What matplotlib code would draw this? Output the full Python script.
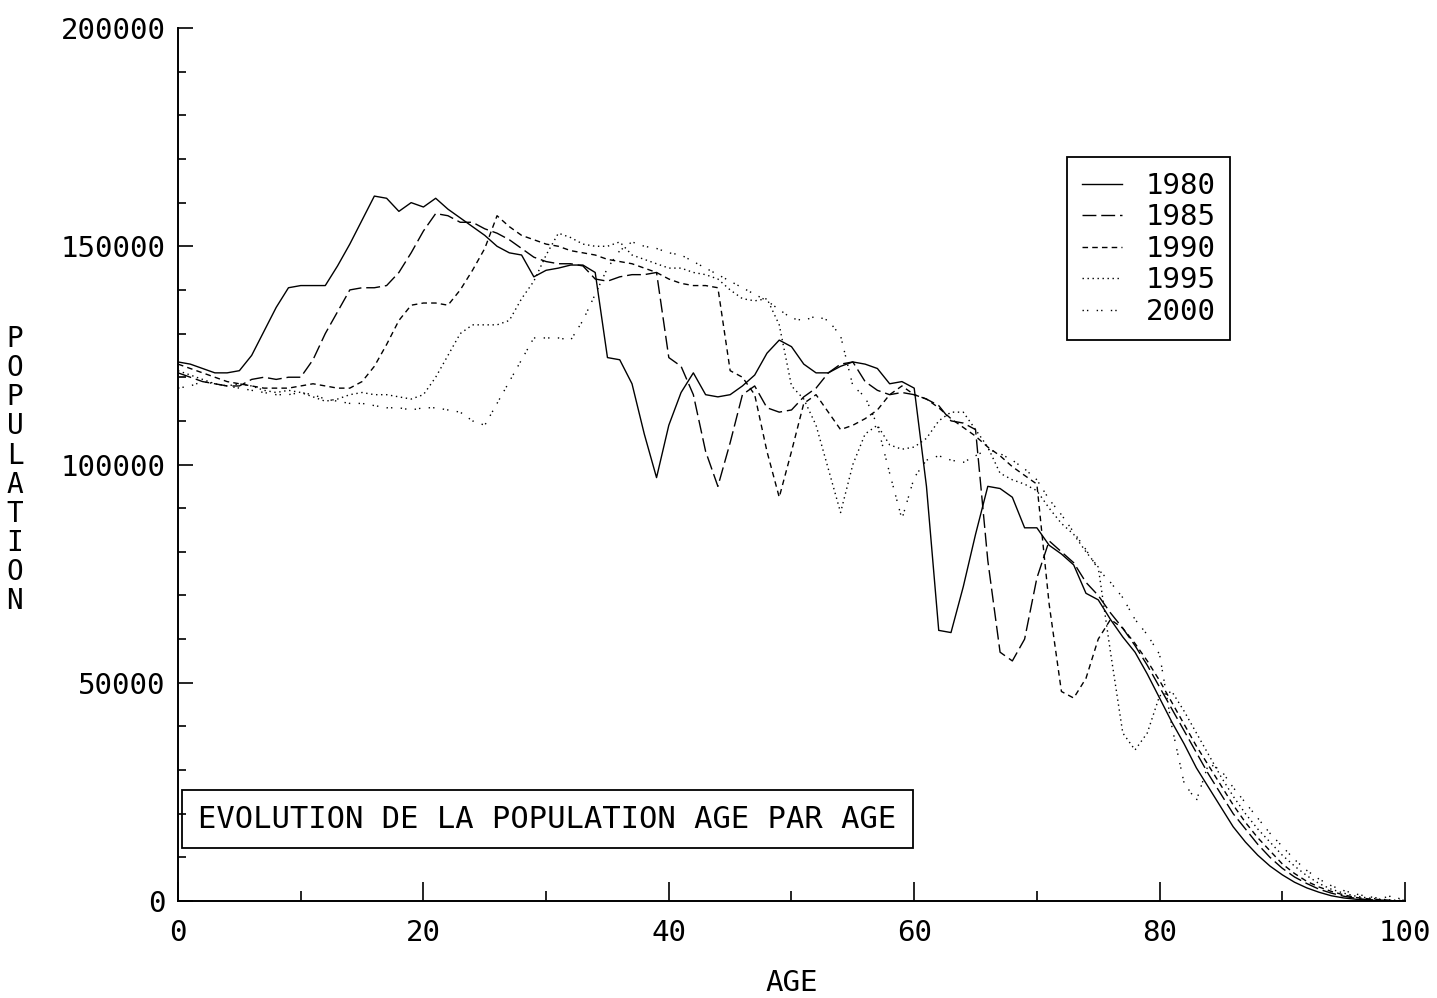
import numpy as np
import matplotlib
matplotlib.use("Agg")
import matplotlib.pyplot as plt
from matplotlib.patches import Rectangle

# population by single year of age (thousands), ages 0..100
ages = np.arange(0, 101)

pop_1980 = [123.5, 123, 122, 121, 121, 121.5, 125, 130.5, 136, 140.5,
            141, 141, 141, 145.5, 150.5, 156, 161.5, 161, 158, 160,
            159, 161, 158.5, 156.5, 154.5, 152.5, 150, 148.5, 148, 143,
            144.5, 145, 145.7, 145.7, 144, 124.5, 124, 118.5, 107, 97,
            109, 116.5, 121, 116, 115.5, 116, 118, 120.5, 125.5, 128.5,
            127, 123, 121, 121, 122.5, 123.5, 123, 122, 118.5, 119,
            117.5, 95, 62, 61.5, 72, 84, 95, 94.5, 92.5, 85.5,
            85.5, 81.5, 79.5, 77, 70.5, 69, 64.5, 60.5, 57, 52,
            46.5, 41, 36, 30.5, 26, 21.5, 17, 13.5, 10.5, 8,
            6, 4.3, 3, 2, 1.2, 0.7, 0.4, 0.2, 0.1, 0.05, 0]

pop_1985 = [121, 120, 119, 118.5, 118, 118, 119.5, 120, 119.5, 120,
            120, 124, 130, 135, 140, 140.5, 140.5, 141, 144, 148.5,
            153.5, 157.5, 157, 155.5, 155.5, 154, 153, 151.5, 149.5, 147.5,
            146.5, 146, 146, 145.5, 142.5, 142, 143, 143.5, 143.5, 144,
            124.5, 122.5, 116, 103, 95, 105, 116, 118, 113, 112,
            112.5, 115.5, 117.5, 121, 123, 123.5, 119, 117, 116, 116.5,
            116, 115, 113.5, 110, 109.5, 108, 78, 57, 55, 60,
            74, 82.5, 80, 77.5, 73, 70, 66, 62.5, 58.5, 54,
            49, 44, 39, 34, 29, 24.5, 20, 16.5, 13, 10,
            7.5, 5.5, 4, 2.7, 1.8, 1.1, 0.6, 0.3, 0.2, 0.1, 0]

pop_1990 = [123, 122, 121, 120, 119, 118.5, 118, 117.5, 117.5, 117.5,
            118, 118.5, 118, 117.5, 117.5, 119, 122.5, 127.5, 133, 136.5,
            137, 137, 136.5, 140, 144.5, 149.5, 157, 154.5, 152.5, 151.5,
            150.5, 150, 149, 148.5, 148, 147, 146.5, 146, 145, 144,
            142.5, 141.5, 141, 141, 140.5, 121.5, 120, 116, 103, 92.5,
            103, 114, 116, 112, 108, 109, 110.5, 112.5, 116, 118,
            116, 115, 113, 110.5, 108.5, 106.5, 104, 102, 99.5, 97.5,
            95.5, 68, 48, 46.5, 51, 60, 64.5, 62.5, 59, 55,
            50.5, 45.5, 40.5, 35.5, 31, 26.5, 22, 18, 14.5, 11.5,
            8.5, 6.3, 4.5, 3.2, 2.2, 1.4, 0.8, 0.5, 0.3, 0.1, 0]

pop_1995 = [121.5, 120.5, 119.5, 118.5, 118, 118.5, 118, 117, 116.5, 117,
            116.5, 115.5, 114.5, 115, 116, 116.5, 116, 116, 115.5, 115,
            116, 120, 125, 130, 132, 132, 132, 133, 138, 142,
            148, 153, 152, 150.5, 150, 150, 151, 148, 147, 146,
            145, 145, 144, 143.5, 142.5, 140, 138, 137.5, 138, 132,
            118, 115, 109, 99, 89, 100, 107, 109, 104.5, 103.5,
            104, 106, 110, 112, 112, 108, 104, 98, 96.5, 95.5,
            94, 90, 86.5, 84, 80, 76.5, 57, 38.5, 34.6, 38.5,
            47, 48, 43.5, 38.5, 33.5, 28.5, 24, 20, 16.5, 13.5,
            10.5, 8, 5.8, 4, 2.7, 1.8, 1.1, 0.7, 0.4, 0.2, 0.1]

pop_2000 = [117.5, 118, 119, 118.5, 118, 117.5, 117, 116.5, 116, 116,
            116.5, 116, 115, 114.5, 114, 114, 113.5, 113, 113, 112.5,
            113, 113, 112.5, 112, 110, 109, 114, 119, 124, 129,
            129, 129, 128.5, 133, 139, 145, 149, 151, 150, 149.5,
            148.5, 148, 146.5, 145, 143.5, 142, 140.5, 139, 137.5, 135.5,
            133.5, 133, 134, 133, 129.5, 118, 115.5, 109, 98, 87.5,
            97, 101, 102, 101, 100.5, 102, 103.5, 102.5, 101, 99,
            96.5, 92, 88.5, 84.5, 80.5, 76, 73, 69.5, 64.5, 61,
            56.5, 40, 27, 23, 31.5, 30, 26, 22.5, 19, 15.5,
            12.5, 9.5, 7, 5, 3.5, 2.4, 1.6, 1, 0.6, 1.2, 0]

years = ["1980", "1985", "1990", "1995", "2000"]
series = [pop_1980, pop_1985, pop_1990, pop_1995, pop_2000]
styles = ["-", (0, (10, 3.5)), (0, (4, 3)), (0, (1, 2.6)), (0, (1, 2.2, 1, 6))]

plt.rcParams['font.family'] = ['DejaVu Sans Mono']
plt.rcParams['lines.scale_dashes'] = False

fig = plt.figure(figsize=(14.37, 9.98), dpi=100)
ax = fig.add_axes([0.1239, 0.0972, 0.8538, 0.8747])

for lab, vals, ls in zip(years, series, styles):
    ax.plot(ages, np.array(vals) * 1000, color="black", lw=1.0, ls=ls, label=lab)

ax.set_xlim(0, 100)
ax.set_ylim(0, 200000)
ax.set_xticks(range(0, 101, 20))
ax.set_xticks(range(10, 100, 20), minor=True)
ax.set_yticks(range(0, 200001, 50000))
ax.set_yticks(range(0, 200001, 10000), minor=True)
ax.tick_params(axis="both", which="both", direction="in", width=1.2, labelsize=21)
ax.tick_params(axis="x", which="major", length=14, pad=13)
ax.tick_params(axis="x", which="minor", length=7)
ax.tick_params(axis="y", which="major", length=11, pad=9)
ax.tick_params(axis="y", which="minor", length=6)
for s in ["top", "right"]:
    ax.spines[s].set_visible(False)
for s in ["left", "bottom"]:
    ax.spines[s].set_linewidth(1.4)

ax.set_xlabel("AGE", fontsize=21, labelpad=16)
fig.text(15 / 1437, 0.529, "\n".join("POPULATION"), fontsize=20,
         ha="center", va="center", linespacing=1.05)

# title box
ax.add_patch(Rectangle((0.0033, 0.0607), 0.5958, 0.0664, transform=ax.transAxes,
                       fill=False, lw=1.3, ec="black", clip_on=False))
ax.text(0.3007, 0.0939, "EVOLUTION DE LA POPULATION AGE PAR AGE", transform=ax.transAxes,
        fontsize=22, ha="center", va="center")

leg = ax.legend(loc="upper left", bbox_to_anchor=(0.7245, 0.852), fontsize=21,
                frameon=True, fancybox=False, edgecolor="black", framealpha=1,
                handlelength=1.4, handletextpad=0.8, borderpad=0.5,
                labelspacing=0.12, borderaxespad=0)
leg.get_frame().set_linewidth(1.3)

fig.savefig("out.png", dpi=100)
